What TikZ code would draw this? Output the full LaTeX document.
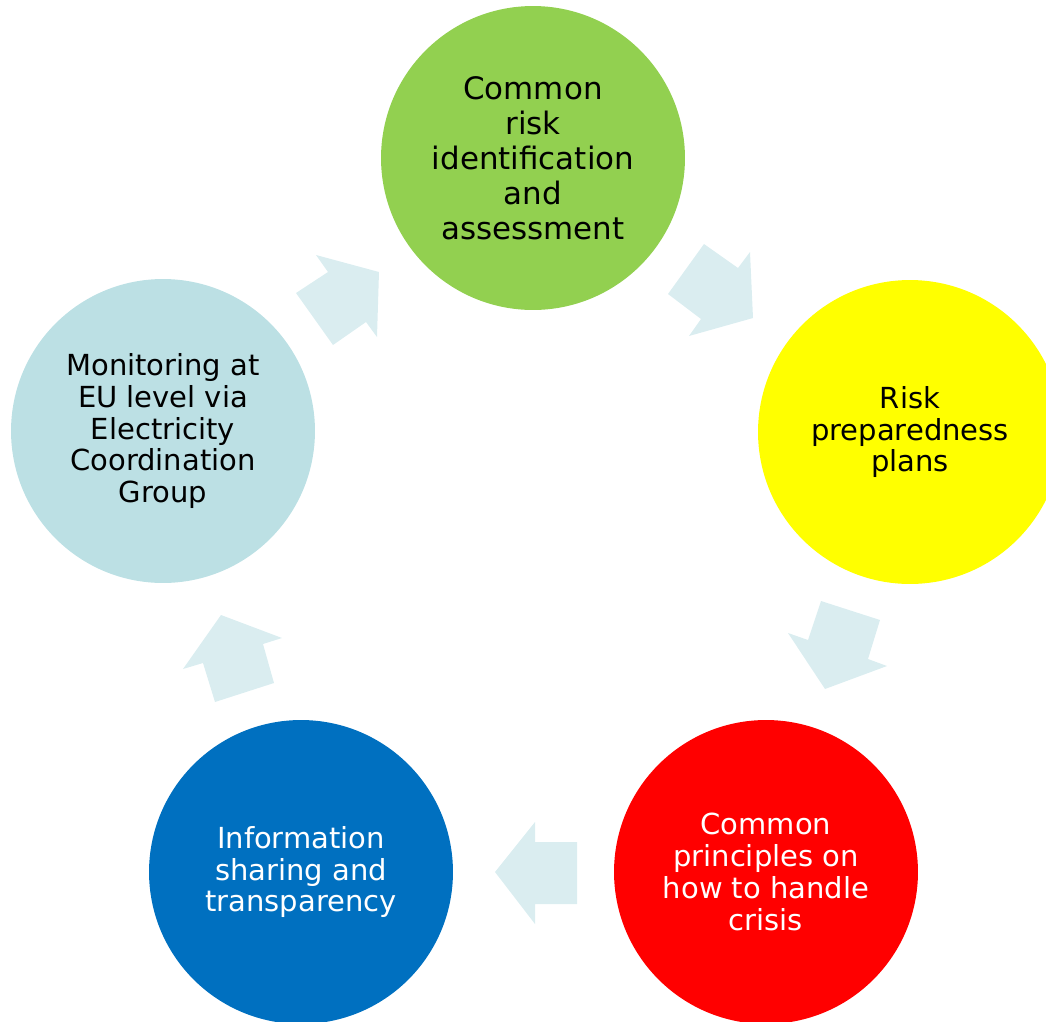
\documentclass[tikz,border=0pt]{standalone}
\usepackage{fontspec}
\setmainfont{DejaVu Sans}
\usetikzlibrary{positioning}
\definecolor{CycleGreen}{RGB}{146,208,80}
\definecolor{CycleYellow}{RGB}{255,255,0}
\definecolor{CycleRed}{RGB}{255,0,0}
\definecolor{CycleBlue}{RGB}{0,112,192}
\definecolor{CycleAqua}{RGB}{188,224,228}
\definecolor{ArrowAqua}{RGB}{218,237,240}
\tikzset{
    stage/.style={circle, draw=none, minimum size=6.08cm, inner sep=0pt, align=center, font=\fontsize{16.5}{18.2}\selectfont},
    bigstage/.style={stage, font=\fontsize{17.6}{19.9}\selectfont},
    blockarrow/.style={fill=ArrowAqua, draw=none}
}

\begin{document}
\begin{tikzpicture}[x=0.02cm, y=-0.02cm]
            \path[use as bounding box, clip] (0,0) rectangle (1046,1022);

            \node[bigstage, fill=CycleGreen] (risk) at (533,158) {Common\\risk\\identification\\and\\assessment};
            \node[stage, fill=CycleYellow] (plans) at (910,432) {Risk\\preparedness\\plans};
            \node[stage, fill=CycleRed, text=white] (crisis) at (766,872) {Common\\principles on\\how to handle\\crisis};
            \node[stage, fill=CycleBlue, text=white] (info) at (301,872) {Information\\sharing and\\transparency};
            \node[stage, fill=CycleAqua] (monitor) at (163,431) {Monitoring at\\EU level via\\Electricity\\Coordination\\Group};

            % block arrows round the cycle
            \fill[blockarrow] (704,244) -- (738,268) -- (750,252) -- (753,318) -- (689,336) -- (701,319) -- (668,294) -- cycle;
            \fill[blockarrow] (821,601) -- (880,620) -- (868,659) -- (887,666) -- (825,689) -- (788,633) -- (808,640) -- cycle;
            \fill[blockarrow] (535,822) -- (535,842) -- (577,842) -- (577,904) -- (535,904) -- (535,924) -- (495,872) -- cycle;
            \fill[blockarrow] (221,615) -- (282,638) -- (263,644) -- (274,683) -- (215,702) -- (203,663) -- (183,669) -- cycle;
            \fill[blockarrow] (316,255) -- (379,272) -- (377,337) -- (366,322) -- (333,345) -- (296,293) -- (328,272) -- cycle;
\end{tikzpicture}
\end{document}
